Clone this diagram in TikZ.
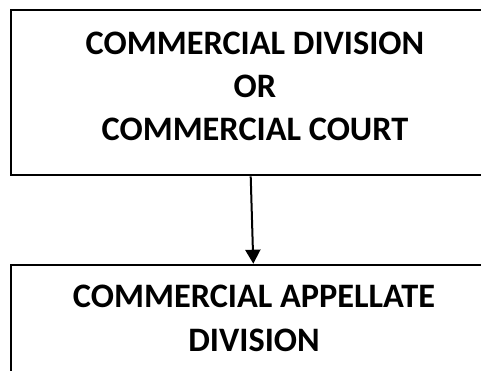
\documentclass[tikz,border=0pt]{standalone}
\usepackage{fontspec}
\setmainfont{Carlito}
\usetikzlibrary{arrows.meta}
\tikzset{
  boxshape/.style={draw=black, line width=2.6pt, rectangle, inner sep=0pt},
  boxtext/.style={inner sep=0pt, align=center, font=\bfseries\fontsize{34.3}{43.3}\selectfont},
  arr/.style={line width=2pt, -{Triangle[width=15pt,length=14pt]}}
}
\begin{document}
\begin{tikzpicture}[x=1pt,y=-1pt]
\useasboundingbox (0,0) rectangle (481,370);
\clip (0,0) rectangle (481,370);
\node[boxshape, minimum width=488pt, minimum height=165pt] (top) at (255,92.5) {};
\node[boxtext] (toptext) at (255,86.35) {COMMERCIAL DIVISION\\OR\\COMMERCIAL COURT};
\node[boxshape, minimum width=488pt, minimum height=160pt] (bot) at (255,345) {};
\node[boxtext] (bottext) at (254,318.3) {COMMERCIAL APPELLATE\\DIVISION};
\draw[arr] ([xshift=-4.3pt]top.south) -- ([xshift=-1.7pt]bot.north);
\end{tikzpicture}
\end{document}
